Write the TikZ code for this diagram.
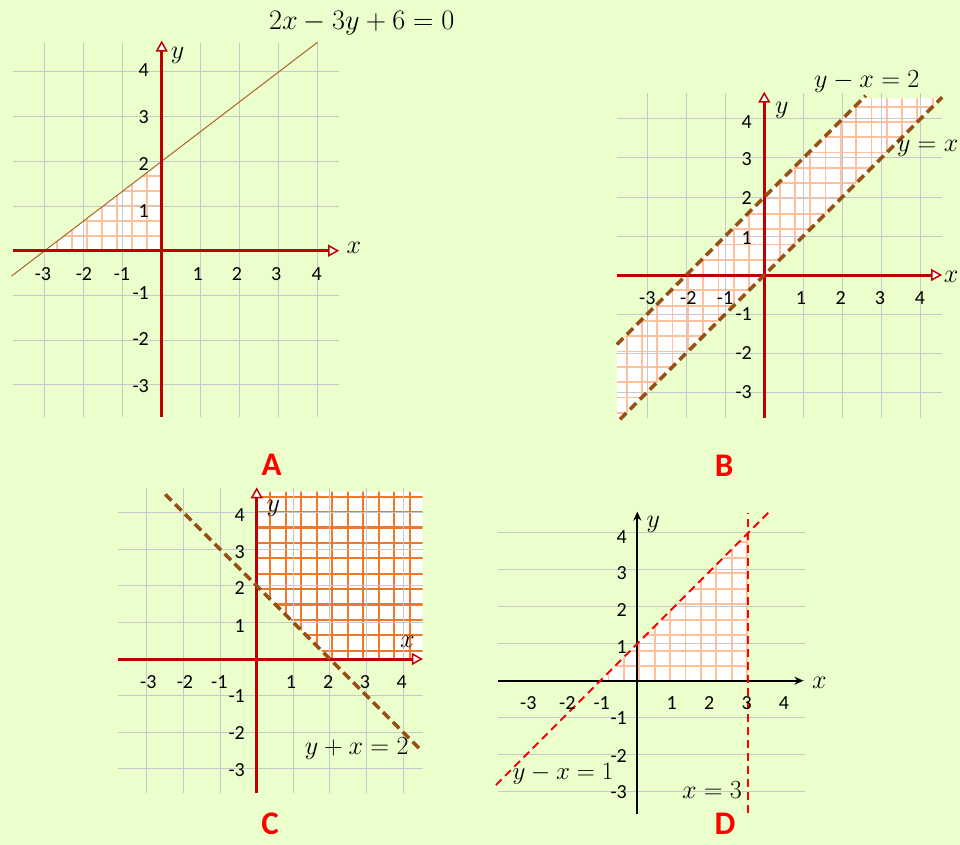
\documentclass[tikz,border=0pt]{standalone}
\usepackage{fontspec}
\newfontfamily\tickfont{Carlito}
\newfontfamily\labfont{Carlito}
\usetikzlibrary{arrows.meta}
\definecolor{bg}{RGB}{235,255,205}
\definecolor{gridc}{RGB}{200,200,200}
\definecolor{axr}{RGB}{192,0,0}
\definecolor{brownl}{RGB}{150,80,20}
\definecolor{brownthin}{RGB}{170,100,40}
\definecolor{hatchl}{RGB}{255,192,155}
\definecolor{hatchd}{RGB}{240,120,40}
\definecolor{panred}{RGB}{255,0,0}
\tikzset{
  gridline/.style={draw=gridc, line width=1pt},
  redaxis/.style={draw=axr, line width=3pt, -{Triangle[width=12pt,length=11pt,fill=white,line width=1.5pt]}},
  blackaxis/.style={draw=black, line width=1.8pt, -{Stealth[length=9pt,width=8pt]}},
  tick/.style={font=\tickfont\fontsize{20}{22}\selectfont, inner sep=0pt},
  mlab/.style={font=\fontsize{24}{28}\selectfont, inner sep=0pt, scale=1.05, transform shape},
  panlab/.style={font=\labfont\bfseries\fontsize{33}{36}\selectfont, text=panred, inner sep=0pt},
  hatchA/.style={draw=hatchl, line width=1.8pt},
  hatchC/.style={draw=hatchd, line width=2.3pt},
  thinline/.style={draw=brownthin, line width=1pt},
  dashbrown/.style={draw=brownl, line width=3.5pt, dash pattern=on 9pt off 5pt},
  dashred/.style={draw=red, line width=2pt, dash pattern=on 8pt off 5pt},
}
\begin{document}
\begin{tikzpicture}[x=1pt,y=-1pt]
\fill[bg] (0,0) rectangle (960,845);
\useasboundingbox (0,0) rectangle (960,845);

% ---------------- Panel A ----------------
\begin{scope}[shift={(161.7pt,-250.7pt)}, x=39pt, y=44.7pt]
  \fill[white] (-3,0) -- (0,0) -- (0,2) -- cycle;
  \begin{scope}
    \clip (-3,0) -- (0,0) -- (0,2) -- cycle;
    \foreach \k in {1,...,12} {
      \draw[hatchA] (-\k*15pt,0pt) -- (-\k*15pt,120pt);
      \draw[hatchA] (-200pt,\k*15pt) -- (0pt,\k*15pt);
    }
  \end{scope}
  \foreach \i in {-3,...,4} \draw[gridline] (\i,-3.72) -- (\i,4.65);
  \foreach \j in {-3,...,4} \draw[gridline] (-3.81,\j) -- (4.55,\j);
  \coordinate (Al1) at (-3.85,-0.567);
  \coordinate (Al2) at (4,4.667);
  \draw[thinline] (Al1) -- (Al2);
  \coordinate (Axl) at (-3.81,0); \coordinate (Axr) at (4.55,0);
  \coordinate (Ayb) at (0,-3.72); \coordinate (Ayt) at (0,4.7);
  \draw[redaxis] (Axl) -- (Axr);
  \draw[redaxis] (Ayb) -- (Ayt);
\end{scope}
\node[tick] (ax1) at (43,274) {-3};
\node[tick] (ax2) at (84,274) {-2};
\node[tick] (ax3) at (122,274) {-1};
\node[tick] (ax4) at (197.7,274) {1};
\node[tick] (ax5) at (237,274) {2};
\node[tick] (ax6) at (276.3,274) {3};
\node[tick] (ax7) at (316.7,274) {4};
\node[tick,anchor=east] (ay1) at (149,70) {4};
\node[tick,anchor=east] (ay2) at (149,117) {3};
\node[tick,anchor=east] (ay3) at (149,164) {2};
\node[tick,anchor=east] (ay4) at (149,211) {1};
\node[tick,anchor=east] (ay5) at (149,292.7) {-1};
\node[tick,anchor=east] (ay6) at (149,339) {-2};
\node[tick,anchor=east] (ay7) at (149,386) {-3};
\node[mlab] (aylab) at (177.7,55) {$y$};
\node[mlab] (axlab) at (354,248) {$x$};
\node[mlab,scale=1.08] (aeq) at (361.7,22.7) {$2x-3y+6=0$};
\node[panlab] (A) at (271.7,465) {A};

% ---------------- Panel B ----------------
\begin{scope}[shift={(764.3pt,-275pt)}, x=39pt, y=39pt]
  \fill[white] (-3.78,-1.78) -- (2.53,4.53) -- (4.53,4.53) -- (-3.67,-3.67) -- (-3.78,-3.67) -- cycle;
  \begin{scope}
    \clip (-3.78,-1.78) -- (2.53,4.53) -- (4.53,4.53) -- (-3.67,-3.67) -- (-3.78,-3.67) -- cycle;
    \foreach \k in {-12,...,12} {
      \draw[hatchA] (\k*15.3pt,-160pt) -- (\k*15.3pt,190pt);
      \draw[hatchA] (-160pt,\k*15.3pt) -- (190pt,\k*15.3pt);
    }
  \end{scope}
  \foreach \i in {-3,...,4} \draw[gridline] (\i,-3.67) -- (\i,4.66);
  \foreach \j in {-3,...,4} \draw[gridline] (-3.78,\j) -- (4.56,\j);
  \coordinate (Bxl) at (-3.78,0); \coordinate (Bxr) at (4.56,0);
  \coordinate (Byb) at (0,-3.67); \coordinate (Byt) at (0,4.7);
  \draw[redaxis] (Bxl) -- (Bxr);
  \draw[redaxis] (Byb) -- (Byt);
  \coordinate (Bu1) at (-3.78,-1.78); \coordinate (Bu2) at (2.6,4.6);
  \coordinate (Bd1) at (-3.7,-3.7); \coordinate (Bd2) at (4.56,4.56);
  \draw[dashbrown] (Bu1) -- (Bu2);
  \draw[dashbrown] (Bd1) -- (Bd2);
\end{scope}
\node[tick] (bx1) at (647.3,298) {-3};
\node[tick] (bx2) at (688.3,298) {-2};
\node[tick] (bx3) at (725,298) {-1};
\node[tick] (bx4) at (801,298) {1};
\node[tick] (bx5) at (840.7,298) {2};
\node[tick] (bx6) at (880,298) {3};
\node[tick] (bx7) at (920,298) {4};
\node[tick,anchor=east] (by1) at (752,121.7) {4};
\node[tick,anchor=east] (by2) at (752,159.3) {3};
\node[tick,anchor=east] (by3) at (752,198.3) {2};
\node[tick,anchor=east] (by4) at (752,238.3) {1};
\node[tick,anchor=east] (by5) at (752,314.3) {-1};
\node[tick,anchor=east] (by6) at (752,353.3) {-2};
\node[tick,anchor=east] (by7) at (752,392.3) {-3};
\node[mlab] (bylab) at (781.7,110) {$y$};
\node[mlab,anchor=east] (bxlab) at (958.5,277) {$x$};
\node[mlab] (beq1) at (866.7,81.7) {$y-x=2$};
\node[mlab,anchor=east] (beq2) at (958.5,148.3) {$y=x$};
\node[panlab] (B) at (724,466) {B};

% ---------------- Panel C ----------------
\begin{scope}[shift={(256.7pt,-659pt)}, x=36.6pt, y=36.6pt]
  \fill[white] (0,2) -- (0,4.57) -- (4.53,4.57) -- (4.53,0) -- (2,0) -- cycle;
  \begin{scope}
    \clip (0,2) -- (0,4.57) -- (4.53,4.57) -- (4.53,0) -- (2,0) -- cycle;
    \foreach \k in {0,...,11} {
      \draw[hatchC] (13.5pt+\k*15.5pt,0pt) -- (13.5pt+\k*15.5pt,175pt);
      \draw[hatchC] (0pt,8.3pt+\k*15.4pt) -- (175pt,8.3pt+\k*15.4pt);
    }
  \end{scope}
  \foreach \i in {-3,...,4} \draw[gridline] (\i,-3.67) -- (\i,4.66);
  \foreach \j in {-3,...,4} \draw[gridline] (-3.78,\j) -- (4.54,\j);
  \coordinate (Cxl) at (-3.78,0); \coordinate (Cxr) at (4.54,0);
  \coordinate (Cyb) at (0,-3.67); \coordinate (Cyt) at (0,4.69);
  \draw[redaxis] (Cxl) -- (Cxr);
  \draw[redaxis] (Cyb) -- (Cyt);
  \coordinate (Cl1) at (-2.5,4.5); \coordinate (Cl2) at (4.46,-2.46);
  \draw[dashbrown] (Cl1) -- (Cl2);
\end{scope}
\node[tick] (cx1) at (148.3,681.7) {-3};
\node[tick] (cx2) at (185,681.7) {-2};
\node[tick] (cx3) at (219.3,681.7) {-1};
\node[tick] (cx4) at (291,681.7) {1};
\node[tick] (cx5) at (328.3,681.7) {2};
\node[tick] (cx6) at (365,681.7) {3};
\node[tick] (cx7) at (401.7,681.7) {4};
\node[tick,anchor=east] (cy1) at (245,515) {4};
\node[tick,anchor=east] (cy2) at (245,551.7) {3};
\node[tick,anchor=east] (cy3) at (245,588.3) {2};
\node[tick,anchor=east] (cy4) at (245,625.7) {1};
\node[tick,anchor=east] (cy5) at (245,696) {-1};
\node[tick,anchor=east] (cy6) at (245,733.3) {-2};
\node[tick,anchor=east] (cy7) at (245,770) {-3};
\node[mlab] (cylab) at (273.3,508.3) {$y$};
\node[mlab] (cxlab) at (407.3,641.7) {$x$};
\node[mlab] (ceq) at (356.7,748.3) {$y+x=2$};
\node[panlab] (C) at (270,824) {C};

% ---------------- Panel D ----------------
\begin{scope}[shift={(637.3pt,-680.7pt)}, x=37pt, y=37pt]
  \fill[white] (-1,0) -- (3,0) -- (3,4) -- cycle;
  \begin{scope}
    \clip (-1,0) -- (3,0) -- (3,4) -- cycle;
    \foreach \k in {-3,...,9} {
      \draw[hatchA] (2pt+\k*15.4pt,0pt) -- (2pt+\k*15.4pt,160pt);
      \draw[hatchA] (-50pt,14.5pt+\k*15.5pt) -- (120pt,14.5pt+\k*15.5pt);
    }
  \end{scope}
  \foreach \j in {-3,...,4} \draw[gridline] (-3.76,\j) -- (4.53,\j);
  \coordinate (Dxl) at (-3.76,0); \coordinate (Dxr) at (4.49,0);
  \coordinate (Dyb) at (0,-3.6); \coordinate (Dyt) at (0,4.57);
  \draw[blackaxis] (Dxl) -- (Dxr);
  \draw[blackaxis] (Dyb) -- (Dyt);
  \coordinate (Dl1) at (-3.82,-2.82); \coordinate (Dl2) at (3.6,4.6);
  \coordinate (Dv1) at (3,-3.58); \coordinate (Dv2) at (3,4.52);
  \draw[dashred] (Dl1) -- (Dl2);
  \draw[dashred] (Dv1) -- (Dv2);
\end{scope}
\node[tick] (dx1) at (528.3,703.3) {-3};
\node[tick] (dx2) at (567.3,703.3) {-2};
\node[tick] (dx3) at (601.7,703.3) {-1};
\node[tick] (dx4) at (671.7,703.3) {1};
\node[tick] (dx5) at (709.3,703.3) {2};
\node[tick] (dx6) at (746.7,703.3) {3};
\node[tick] (dx7) at (784,703.3) {4};
\node[tick,anchor=east] (dy1) at (627,537.3) {4};
\node[tick,anchor=east] (dy2) at (627,573.3) {3};
\node[tick,anchor=east] (dy3) at (627,610) {2};
\node[tick,anchor=east] (dy4) at (627,646.7) {1};
\node[tick,anchor=east] (dy5) at (627,718.3) {-1};
\node[tick,anchor=east] (dy6) at (627,756) {-2};
\node[tick,anchor=east] (dy7) at (627,792.3) {-3};
\node[mlab] (dylab) at (653.3,524) {$y$};
\node[mlab] (dxlab) at (819.3,682.7) {$x$};
\node[mlab,scale=0.96] (deq1) at (563,774) {$y-x=1$};
\node[mlab] (deq2) at (712,790) {$x=3$};
\node[panlab] (D) at (725,824) {D};
\end{tikzpicture}
\end{document}
